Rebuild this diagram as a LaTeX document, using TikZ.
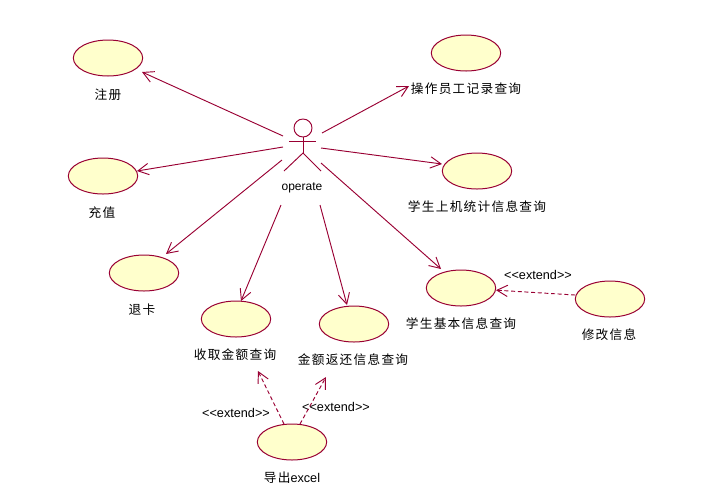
\documentclass[tikz,border=0pt]{standalone}
\usepackage{fontspec}
\setmainfont{Liberation Sans}
\newfontfamily\cjk[LetterSpace=10]{Noto Sans CJK SC}
\usetikzlibrary{arrows.meta,shapes.geometric}
\definecolor{umlline}{HTML}{990033}
\definecolor{umlfill}{HTML}{FFFFCC}
\tikzset{
  usecase/.style={draw=umlline,fill=umlfill,ellipse,line width=.75pt,minimum width=52pt,minimum height=27pt,inner sep=0pt},
  cnlabel/.style={font=\fontsize{9.5pt}{11pt}\cjk,text=black,inner sep=0pt},
  txlabel/.style={font=\fontsize{9pt}{11pt}\selectfont,text=black,inner sep=0pt},
  extlabel/.style={font=\fontsize{9.5pt}{11pt}\selectfont,text=black,inner sep=0pt},
  assoc/.style={draw=umlline,line width=.7pt,-{Straight Barb[length=8pt,width=8.5pt,line width=.7pt]}},
  ext/.style={assoc,dash pattern=on 3pt off 2pt},
  actorline/.style={draw=umlline,line width=.7pt}
}
\begin{document}
\begin{tikzpicture}[x=.75pt,y=-.75pt]
\useasboundingbox (0,0) rectangle (721,501);
\node[usecase] (reg) at (108,58) {};
\node[usecase] (oplog) at (466,53) {};
\node[usecase] (charge) at (103,176) {};
\node[usecase] (stat) at (477,171) {};
\node[usecase] (refund) at (144,273) {};
\node[usecase] (fee) at (236,319) {};
\node[usecase] (back) at (354,324) {};
\node[usecase] (info) at (461,288) {};
\node[usecase] (edit) at (610,299) {};
\node[usecase] (export) at (292,442) {};
\node[cnlabel] (lreg) at (108,95) {注册};
\node[cnlabel] (loplog) at (466,89) {操作员工记录查询};
\node[cnlabel] (lcharge) at (102,213) {充值};
\node[cnlabel] (lstat) at (477,207) {学生上机统计信息查询};
\node[cnlabel] (lrefund) at (142,310) {退卡};
\node[cnlabel] (lfee) at (235,355) {收取金额查询};
\node[cnlabel] (lback) at (353,360) {金额返还信息查询};
\node[cnlabel] (linfo) at (461,324) {学生基本信息查询};
\node[cnlabel] (ledit) at (609,335) {修改信息};
\node[cnlabel] (lexport) at (292,478) {导出{\fontsize{9.5pt}{11pt}\selectfont\rmfamily excel}};
\node[txlabel] (op) at (302,188) {operate};
\node[extlabel] (e1) at (538,275) {<{}<extend>{}>};
\node[extlabel] (e2) at (236,413) {<{}<extend>{}>};
\node[extlabel] (e3) at (336,407) {<{}<extend>{}>};
% actor
\node[draw=umlline,circle,line width=.7pt,minimum size=13.5pt,inner sep=0pt] (head) at (303,128) {};
\coordinate (larm) at (289,141);
\coordinate (rarm) at (316,141);
\coordinate (hip) at (303,153);
\coordinate (lfoot) at (284,171);
\coordinate (rfoot) at (321,171);
\draw[actorline] (head.south) -- (hip);
\draw[actorline] (larm) -- (rarm);
\draw[actorline] (lfoot) -- (hip) -- (rfoot);
% free ends near the actor
\coordinate (a1) at (283,136);
\coordinate (a2) at (322,133);
\coordinate (a3) at (283,147);
\coordinate (a4) at (321,148);
\coordinate (a5) at (282,160);
\coordinate (a6) at (281,205);
\coordinate (a7) at (320,205);
\coordinate (a8) at (321,163);
\coordinate (t1) at (142,72);
\coordinate (t2) at (409,86);
\coordinate (t3) at (137,171);
\coordinate (t4) at (442,164);
\coordinate (t5) at (166,254);
\coordinate (t6) at (241,301);
\coordinate (t7) at (347,305);
\coordinate (t8) at (441,269);
\coordinate (x1) at (284,424);
\coordinate (x2) at (300,424);
\coordinate (y1) at (258,371);
\coordinate (y2) at (326,377);
\coordinate (z1) at (575,295);
\draw[assoc] (a1) -- (t1);
\draw[assoc] (a2) -- (t2);
\draw[assoc] (a3) -- (t3);
\draw[assoc] (a4) -- (t4);
\draw[assoc] (a5) -- (t5);
\draw[assoc] (a6) -- (t6);
\draw[assoc] (a7) -- (t7);
\draw[assoc] (a8) -- (t8);
\draw[ext] (z1) -- (info);
\draw[ext] (x1) -- (y1);
\draw[ext] (x2) -- (y2);
\end{tikzpicture}
\end{document}
